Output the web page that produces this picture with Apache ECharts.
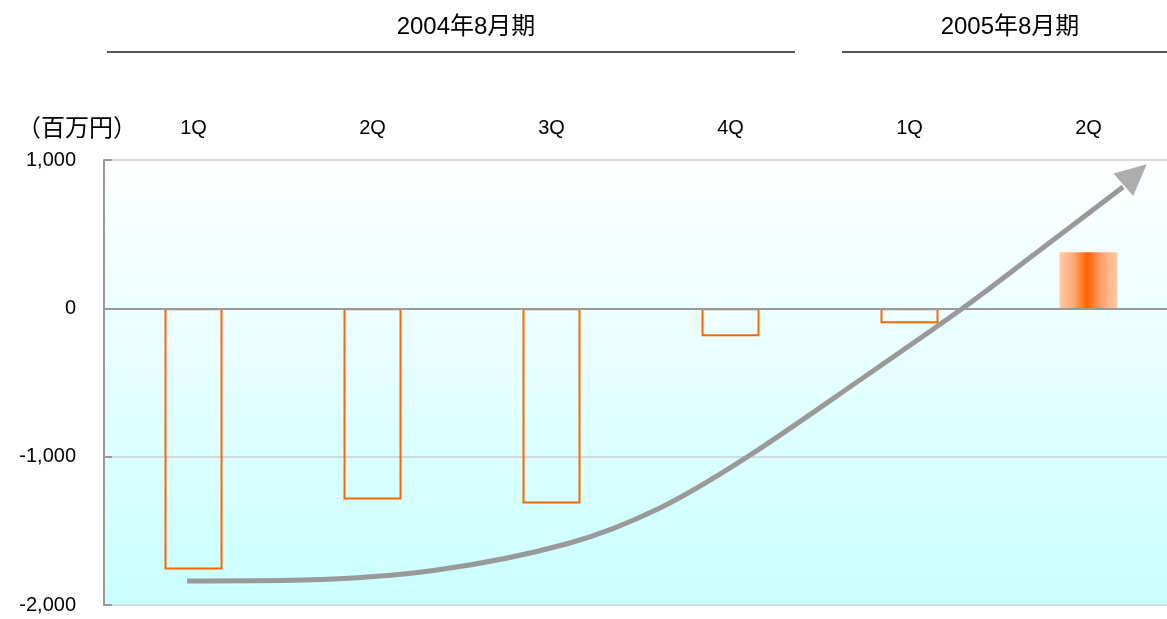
<!DOCTYPE html>
<html>
<head>
<meta charset="utf-8">
<script src="https://cdn.jsdelivr.net/npm/echarts@6/dist/echarts.min.js"></script>
<style>
html, body { margin: 0; padding: 0; background: #fff; }
#chart { width: 1167px; height: 619px; }
</style>
</head>
<body>
<div id="chart"></div>
<script>
// 四半期ごとの数値（百万円）
const quarters = ["1Q", "2Q", "3Q", "4Q", "1Q", "2Q"];
const values = [-1760, -1288, -1315, -189, -101, 378];
const yTicks = [-2000, -1000, 0, 1000];
const periods = ["2004年8月期", "2005年8月期"];
// トレンド矢印（x はカテゴリ位置 0〜6, y は百万円）
const trendX = [0.464, 1.112, 1.86, 2.603, 3.106, 3.592, 4.223, 4.799, 5.229, 5.693];
const trendY = [-1838, -1832, -1764, -1582, -1346, -1003, -483, 2, 393, 818];
const arrowHead = [5.76, 902];

const fontEn = "'Liberation Sans', Arial, 'Noto Sans CJK JP', sans-serif";
const fontJp = "'Liberation Sans', 'Noto Sans CJK JP', sans-serif";

const chart = echarts.init(document.getElementById("chart"));

const barData = values.map(v => {
	if (v > 0) {
		return {
			value: v,
			itemStyle: {
				borderWidth: 0,
				color: new echarts.graphic.LinearGradient(0, 0, 1, 0, [
					{ offset: 0, color: "#ffcaa6" },
					{ offset: 0.25, color: "#ffa874" },
					{ offset: 0.47, color: "#ff6000" },
					{ offset: 0.72, color: "#ffa070" },
					{ offset: 1, color: "#ffcca8" }
				])
			}
		};
	}
	return v;
});

const option = {
	animation: false,
	grid: {
		left: 104,
		top: 160,
		width: 1074,
		bottom: 14,
		outerBoundsMode: "none",
		containLabel: false,
		show: true,
		borderWidth: 0,
		backgroundColor: new echarts.graphic.LinearGradient(0, 0, 0, 1, [
			{ offset: 0, color: "#ffffff" },
			{ offset: 1, color: "#c9ffff" }
		])
	},
	xAxis: [
		{
			type: "category",
			position: "top",
			data: quarters,
			axisLine: { show: false },
			axisTick: { show: false },
			axisLabel: {
				margin: 22,
				color: "#000",
				fontSize: 20,
				fontFamily: fontEn
			}
		},
		{
			type: "value",
			position: "bottom",
			min: 0,
			max: 6,
			axisLine: { show: false },
			axisTick: { show: false },
			axisLabel: { show: false },
			splitLine: { show: false }
		}
	],
	yAxis: {
		type: "value",
		min: yTicks[0],
		max: yTicks[yTicks.length - 1],
		interval: 1000,
		axisLine: { show: true, lineStyle: { color: "#9a9a9a", width: 2 } },
		axisTick: { show: true, inside: true, length: 8, lineStyle: { color: "#9a9a9a", width: 2 } },
		axisLabel: {
			margin: 28,
			padding: [8, 0, 0, 0],
			color: "#000",
			fontSize: 20,
			fontFamily: fontEn,
			formatter: v => v.toLocaleString("en-US")
		},
		splitLine: { show: true, lineStyle: { color: "#cfcfcf", width: 1.5 } }
	},
	series: [
		{
			type: "bar",
			xAxisIndex: 0,
			data: barData,
			barWidth: 58,
			itemStyle: {
				color: "rgba(0,0,0,0)",
				borderColor: "#ff6600",
				borderWidth: 2
			},
			markLine: {
				silent: true,
				symbol: "none",
				label: { show: false },
				lineStyle: { color: "#9a9a9a", width: 2, type: "solid" },
				data: [{ yAxis: 0 }],
				z: 4
			}
		},
		{
			type: "line",
			xAxisIndex: 1,
			data: trendX.map((x, i) => [x, trendY[i]]),
			smooth: 0.3,
			symbol: "none",
			lineStyle: { color: "#999999", width: 5 },
			z: 5
		},
		{
			type: "scatter",
			xAxisIndex: 1,
			data: [arrowHead],
			symbol: "triangle",
			symbolSize: [30, 31],
			symbolRotate: -49,
			itemStyle: { color: "#999999" },
			z: 6
		}
	],
	graphic: [
		{ type: "text", x: 77, y: 129, style: { text: "（百万円）", fontSize: 24, fontFamily: fontJp, fill: "#000", align: "center", verticalAlign: "middle" } },
		{ type: "text", x: 466, y: 27, style: { text: periods[0], fontSize: 24, fontFamily: fontJp, fill: "#000", align: "center", verticalAlign: "middle" } },
		{ type: "text", x: 1010, y: 27, style: { text: periods[1], fontSize: 24, fontFamily: fontJp, fill: "#000", align: "center", verticalAlign: "middle" } },
		{ type: "line", shape: { x1: 107, y1: 52, x2: 795, y2: 52 }, style: { stroke: "#555", lineWidth: 2 } },
		{ type: "line", shape: { x1: 842, y1: 52, x2: 1167, y2: 52 }, style: { stroke: "#555", lineWidth: 2 } }
	]
};

chart.setOption(option);
</script>
</body>
</html>
